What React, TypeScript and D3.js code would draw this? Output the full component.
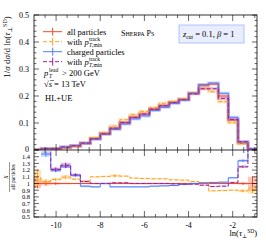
import * as d3 from "d3";

// bin edges in ln(tau_perp^SD)
const edges = [-11, -10.68, -10.24, -9.79, -9.34, -8.9, -8.45, -8.0, -7.56, -7.11, -6.66, -6.22, -5.77, -5.33, -4.88, -4.44, -3.99, -3.54, -3.09, -2.65, -2.2, -1.76, -1.31, -0.9];

// main panel, 1/sigma dsigma/dln(tau)
const allMain = [0.002, 0.003, 0.004, 0.0085, 0.014, 0.025, 0.042, 0.059, 0.080, 0.101, 0.121, 0.133, 0.151, 0.164, 0.177, 0.188, 0.210, 0.238, 0.244, 0.200, 0.111, 0.025, 0.002];
const trkMain = [0.002, 0.003, 0.0042, 0.009, 0.015, 0.026, 0.046, 0.065, 0.089, 0.112, 0.131, 0.143, 0.157, 0.173, 0.180, 0.190, 0.212, 0.227, 0.216, 0.179, 0.101, 0.023, 0.002];
const chgMain = [0.0, 0.0045, 0.005, 0.011, 0.016, 0.024, 0.040, 0.059, 0.076, 0.096, 0.115, 0.126, 0.146, 0.158, 0.172, 0.185, 0.210, 0.243, 0.248, 0.210, 0.121, 0.030, 0.0035];
const chgTrkMain = [0.0, 0.005, 0.005, 0.011, 0.016, 0.026, 0.042, 0.060, 0.081, 0.102, 0.121, 0.133, 0.151, 0.164, 0.176, 0.186, 0.208, 0.227, 0.227, 0.191, 0.113, 0.031, 0.0035];

// ratio panel, X / all particles
const allRatio = [1, 1, 1, 1, 1, 1, 1, 1, 1, 1, 1, 1, 1, 1, 1, 1, 1, 1, 1, 1, 1, 1, 1];
const trkRatio = [1.085, 1.03, 1.06, 1.095, 1.065, 1.035, 1.10, 1.105, 1.115, 1.11, 1.08, 1.075, 1.07, 1.07, 1.055, 1.05, 1.03, 1.01, 0.89, 0.895, 0.90, 0.89, 0.9];
const chgRatio = [null, 1.44, 1.2, 1.26, 1.12, 0.96, 0.95, 1.0, 0.95, 0.95, 0.95, 0.95, 0.96, 0.965, 0.97, 0.985, 1.0, 1.01, 1.015, 1.02, 1.085, 1.34, 1.6];
const chgTrkRatio = [null, 1.6, 1.21, 1.27, 1.13, 1.03, 1.0, 1.0, 1.01, 1.01, 1.0, 1.0, 1.0, 1.0, 0.995, 0.99, 0.99, 0.975, 0.955, 0.96, 1.015, 1.25, 1.6];

const allErr = [0.07, 0.03, 0.02, 0.015, 0.012, 0.012, 0.012, 0.012, 0.012, 0.012, 0.012, 0.012, 0.012, 0.012, 0.012, 0.012, 0.012, 0.012, 0.012, 0.012, 0.012, 0.02, 0.1];
const trkErr = [0.12, 0.03, 0.02, 0.03, 0.015, 0.01, 0.01, 0.01, 0.02, 0.01, 0.01, 0.01, 0.01, 0.01, 0.01, 0.01, 0.01, 0.01, 0.01, 0.01, 0.01, 0.02, 0.05];
const chgErr = [0, 0.04, 0.03, 0.03, 0.02, 0.015, 0.012, 0.01, 0.01, 0.01, 0.01, 0.01, 0.01, 0.01, 0.01, 0.01, 0.01, 0.01, 0.01, 0.01, 0.012, 0.02, 0.05];
const chgTrkErr = [0, 0.05, 0.03, 0.04, 0.02, 0.015, 0.012, 0.01, 0.01, 0.01, 0.01, 0.01, 0.01, 0.01, 0.01, 0.01, 0.01, 0.01, 0.01, 0.01, 0.012, 0.02, 0.05];

const mainYTicks = [0, 0.1, 0.2, 0.3, 0.4, 0.5];
const ratioYTicks = [0.5, 0.6, 0.7, 0.8, 0.9, 1, 1.1, 1.2, 1.3, 1.4];
const xTicks = [-10, -8, -6, -4, -2];

const series = [
  { name: "all", color: "#ef4a2c", dash: null, main: allMain, ratio: allRatio, err: allErr },
  { name: "trk", color: "#ffa21c", dash: "4,2", main: trkMain, ratio: trkRatio, err: trkErr },
  { name: "chg", color: "#4d7cff", dash: null, main: chgMain, ratio: chgRatio, err: chgErr },
  { name: "chgtrk", color: "#a0209c", dash: "4,2", main: chgTrkMain, ratio: chgTrkRatio, err: chgTrkErr },
];

const L = 34, R = 257, TOP = 15, MID = 150, BOT = 217;
const FONT = "'Liberation Serif', 'DejaVu Serif', serif";

const x = d3.scaleLinear().domain([-11, -0.9]).range([L, R]);
const yMain = d3.scaleLinear().domain([0, 0.5]).range([MID, TOP]);
const yRatio = d3.scaleLinear().domain([0.5, 1.5]).range([BOT, MID]);

const stepPts = (vals: (number | null)[]) =>
  edges.map((e, i) => ({ e, v: vals[Math.min(i, vals.length - 1)], err: 0 }));

const stepLine = (y: d3.ScaleLinear<number, number>) =>
  d3.line<any>().defined(d => d.v != null).curve(d3.curveStepAfter).x(d => x(d.e)).y(d => y(d.v));

const App = () => {
  const lineMain = stepLine(yMain);
  const lineRatio = stepLine(yRatio);
  const band = d3.area<any>()
    .defined(d => d.v != null)
    .curve(d3.curveStepAfter)
    .x(d => x(d.e))
    .y0(d => yRatio(d.v - d.err))
    .y1(d => yRatio(d.v + d.err));

  const xMinor = d3.range(-10.5, -0.95, 0.5);
  const yMainMinor = d3.range(0, 0.5001, 0.02);
  const yRatioMinor = d3.range(0.5, 1.5001, 0.05);
  const isMajorX = (v: number) => Math.abs(v / 2 - Math.round(v / 2)) < 1e-6;
  const isMajor01 = (v: number) => Math.abs(v * 10 - Math.round(v * 10)) < 1e-6;

  const legend = [
    { s: series[0], y: 31.7, label: "all particles", trk: false },
    { s: series[1], y: 41.7, label: "with", trk: true },
    { s: series[2], y: 51.7, label: "charged particles", trk: false },
    { s: series[3], y: 61.7, label: "with", trk: true },
  ];

  return (
    <svg width={266} height={240} style={{ position: "absolute", left: 0, top: 0 }} fontFamily={FONT}>
      <defs>
        <clipPath id="clipMain"><rect x={L} y={TOP} width={R - L} height={MID - TOP} /></clipPath>
        <clipPath id="clipRatio"><rect x={L} y={MID} width={R - L} height={BOT - MID} /></clipPath>
      </defs>
      <rect width={266} height={240} fill="white" />

      {/* main histograms */}
      <g clipPath="url(#clipMain)">
        {series.map(s => (
          <path key={s.name + "b"} d={lineMain(stepPts(s.main)) || ""} fill="none" stroke={s.color} strokeOpacity={0.3} strokeWidth={3} />
        ))}
        {series.map(s => (
          <path key={s.name} d={lineMain(stepPts(s.main)) || ""} fill="none" stroke={s.color} strokeWidth={1} strokeDasharray={s.dash || undefined} />
        ))}
      </g>

      {/* ratio */}
      <g clipPath="url(#clipRatio)">
        {series.map(s => {
          const pts = edges.map((e, i) => {
            const k = Math.min(i, s.ratio.length - 1);
            return { e, v: s.ratio[k], err: Math.max(s.err[k], 0.008) };
          });
          return <path key={s.name + "band"} d={band(pts) || ""} fill={s.color} fillOpacity={0.3} />;
        })}
        {series.map(s => (
          <path key={s.name + "r"} d={lineRatio(stepPts(s.ratio)) || ""} fill="none" stroke={s.color} strokeWidth={1} strokeDasharray={s.dash || undefined} />
        ))}
        {series.map(s =>
          s.ratio.map((v, i) => {
            if (v == null || s.err[i] < 0.02) return null;
            const cx = x((edges[i] + edges[i + 1]) / 2);
            return <line key={s.name + "e" + i} x1={cx} x2={cx} y1={yRatio(v - s.err[i])} y2={yRatio(v + s.err[i])} stroke={s.color} strokeWidth={1} />;
          })
        )}
      </g>

      {/* frames */}
      <rect x={L} y={TOP} width={R - L} height={BOT - TOP} fill="none" stroke="black" strokeWidth={0.8} />
      <line x1={L} x2={R} y1={MID} y2={MID} stroke="#333" strokeWidth={1} />

      {/* x ticks */}
      {xMinor.map(v => {
        const len = isMajorX(v) ? 6 : 3;
        const px = x(v);
        return (
          <g key={"xt" + v} stroke="black" strokeWidth={0.6}>
            <line x1={px} x2={px} y1={TOP} y2={TOP + len} />
            <line x1={px} x2={px} y1={MID - len} y2={MID + len} />
            <line x1={px} x2={px} y1={BOT} y2={BOT - len} />
          </g>
        );
      })}
      {/* main y ticks */}
      {yMainMinor.map(v => {
        const len = isMajor01(v) ? 5 : 2.5;
        const py = yMain(v);
        return (
          <g key={"ym" + v} stroke="black" strokeWidth={0.6}>
            <line x1={L} x2={L + len} y1={py} y2={py} />
            <line x1={R} x2={R - len} y1={py} y2={py} />
          </g>
        );
      })}
      {yRatioMinor.map(v => {
        const len = isMajor01(v) ? 5 : 2.5;
        const py = yRatio(v);
        return (
          <g key={"yr" + v} stroke="black" strokeWidth={0.6}>
            <line x1={L} x2={L + len} y1={py} y2={py} />
            <line x1={R} x2={R - len} y1={py} y2={py} />
          </g>
        );
      })}

      {/* tick labels */}
      {mainYTicks.map(v => (
        <text key={"lm" + v} x={L - 5} y={v === 0 ? yMain(v) + 1.5 : yMain(v) + 3} fontSize={8} textAnchor="end">{String(v)}</text>
      ))}
      {ratioYTicks.map(v => (
        <text key={"lr" + v} x={L - 4} y={yRatio(v) + 2.3} fontSize={6.5} textAnchor="end">{String(v)}</text>
      ))}
      {xTicks.map(v => (
        <text key={"lx" + v} x={x(v)} y={227.5} fontSize={8} textAnchor="middle">{"-" + Math.abs(v)}</text>
      ))}

      {/* axis labels */}
      <text x={R} y={236} fontSize={8.5} textAnchor="end">
        ln(<tspan fontStyle="italic">τ</tspan><tspan fontSize={5.5} dy={2}>⊥</tspan><tspan fontSize={5.5} dy={-5}>SD</tspan><tspan dy={3}>)</tspan>
      </text>
      <text transform="translate(9.5,47) rotate(-90)" fontSize={9} textAnchor="middle">
        1/<tspan fontStyle="italic">σ</tspan> d<tspan fontStyle="italic">σ</tspan>/d ln(<tspan fontStyle="italic">τ</tspan><tspan fontSize={6} dy={2}>⊥</tspan><tspan fontSize={6} dy={-5}>SD</tspan><tspan dy={3}>)</tspan>
      </text>
      <g transform="translate(9.5,177) rotate(-90)">
        <text y={-1.3} fontSize={5.5} textAnchor="middle" fontStyle="italic">X</text>
        <line x1={-15} x2={15} y1={0} y2={0} stroke="black" strokeWidth={0.4} />
        <text y={5} fontSize={5.5} textAnchor="middle">all particles</text>
      </g>

      {/* legend */}
      {legend.map(l => (
        <g key={"lg" + l.s.name}>
          <line x1={43} x2={62} y1={l.y} y2={l.y} stroke={l.s.color} strokeWidth={1} strokeDasharray={l.s.dash || undefined} />
          <line x1={52.7} x2={52.7} y1={l.y - 4} y2={l.y + 4} stroke={l.s.color} strokeWidth={1} />
          <text x={67} y={l.y + 3} fontSize={8.5}>{l.label}</text>
          {l.trk && (
            <g>
              <text x={84.5} y={l.y + 3} fontSize={8.5} fontStyle="italic">p</text>
              <text x={89} y={l.y - 0.5} fontSize={5.5}>track</text>
              <text x={89} y={l.y + 5} fontSize={5.5}><tspan fontStyle="italic">T</tspan>,min</text>
            </g>
          )}
        </g>
      ))}
      <text x={44} y={76} fontSize={8.5} fontStyle="italic">p</text>
      <text x={49} y={72} fontSize={5.5}>lead</text>
      <text x={49} y={78} fontSize={5.5} fontStyle="italic">T</text>
      <text x={62} y={76} fontSize={8.5}>&gt; 200 GeV</text>
      <text x={44} y={87} fontSize={8.5}>√<tspan fontStyle="italic">s</tspan> = 13 TeV</text>
      <line x1={50} x2={54} y1={80.5} y2={80.5} stroke="black" strokeWidth={0.5} />
      <text x={45} y={100.5} fontSize={8.5}>HL+UE</text>

      <text x={121} y={36} fontSize={8}>S<tspan fontSize={6}>HERPA</tspan> P<tspan fontSize={6}>S</tspan></text>

      <rect x={179} y={25} width={65} height={18} fill="#e9eeff" stroke="#9fb4ff" strokeWidth={0.8} />
      <text x={183} y={37} fontSize={8.5}>
        <tspan fontStyle="italic">z</tspan><tspan fontSize={5.5} dy={2}>cut</tspan><tspan dy={-2}> = 0.1, </tspan><tspan fontStyle="italic">β</tspan> = 1
      </text>
    </svg>
  );
};

export default App;
